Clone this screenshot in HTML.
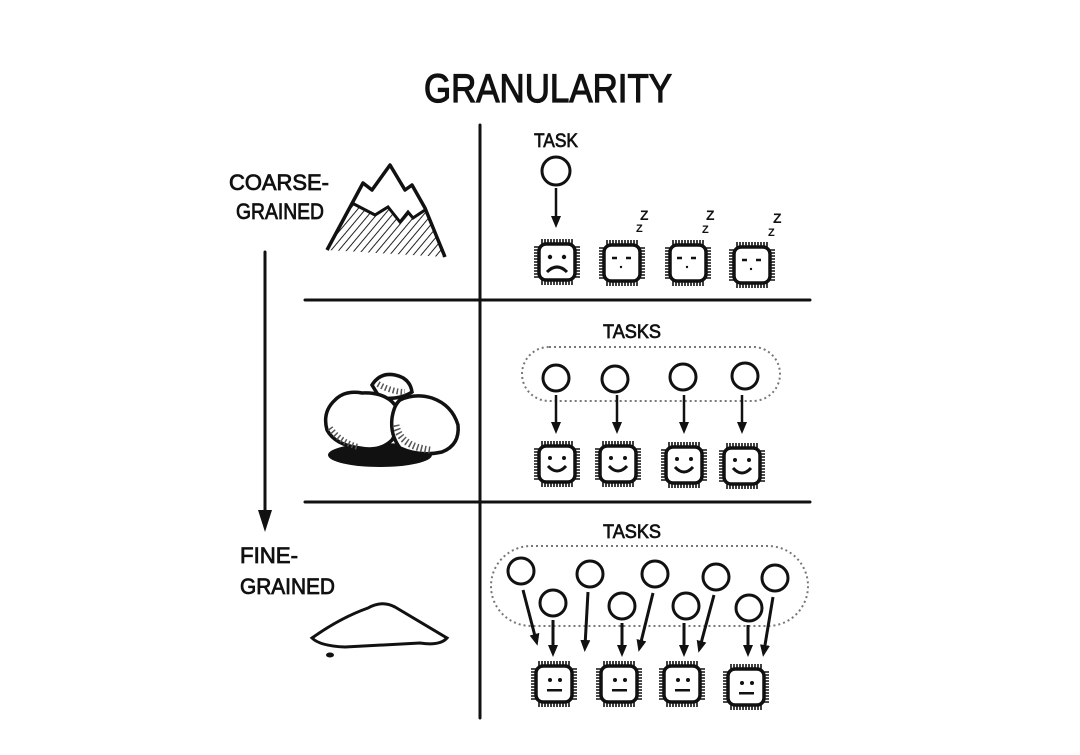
<!DOCTYPE html>
<html><head><meta charset="utf-8"><style>
html,body{margin:0;padding:0;background:#fff;}
svg{display:block;}
text{font-family:"Liberation Sans",sans-serif;fill:#111;}
</style></head><body>
<svg width="1080" height="755" viewBox="0 0 1080 755" xmlns="http://www.w3.org/2000/svg">
<defs>
<pattern id="hatch" width="6" height="6" patternUnits="userSpaceOnUse" patternTransform="rotate(40)">
<line x1="0" y1="0" x2="0" y2="6" stroke="#222" stroke-width="2"/>
</pattern>
<marker id="ah" markerWidth="12" markerHeight="12" refX="6" refY="5" orient="auto" markerUnits="userSpaceOnUse" viewBox="0 0 12 10">
<path d="M0,0 L12,5 L0,10 Z" fill="#111"/>
</marker>
<g id="chip">
<rect x="-18" y="-18" width="36" height="36" rx="7" fill="#fff" stroke="#111" stroke-width="3.5"/>
<path d="M-15,-18v-5M-12,-18v-5M-9,-18v-5M-6,-18v-5M-3,-18v-5M0,-18v-5M3,-18v-5M6,-18v-5M9,-18v-5M12,-18v-5M15,-18v-5
M-15,18v5M-12,18v5M-9,18v5M-6,18v5M-3,18v5M0,18v5M3,18v5M6,18v5M9,18v5M12,18v5M15,18v5
M-18,-15h-5M-18,-12h-5M-18,-9h-5M-18,-6h-5M-18,-3h-5M-18,0h-5M-18,3h-5M-18,6h-5M-18,9h-5M-18,12h-5M-18,15h-5
M18,-15h5M18,-12h5M18,-9h5M18,-6h5M18,-3h5M18,0h5M18,3h5M18,6h5M18,9h5M18,12h5M18,15h5" stroke="#111" stroke-width="1.6"/>
</g>
</defs>

<text x="548" y="102" font-size="40" text-anchor="middle" textLength="248" lengthAdjust="spacingAndGlyphs" stroke="#111" stroke-width="1.2">GRANULARITY</text>

<g stroke="#111" stroke-width="3" fill="none" stroke-linecap="round">
<line x1="480" y1="125" x2="480" y2="718"/>
<line x1="305" y1="300" x2="810" y2="300"/>
<line x1="305" y1="502" x2="810" y2="502"/>
<line x1="265" y1="252" x2="265" y2="515"/>
</g>
<path d="M258,510 L272,510 L265,532 Z" fill="#111"/>

<g font-size="22" stroke="#111" stroke-width="0.8">
<text x="229" y="190" textLength="100" lengthAdjust="spacingAndGlyphs">COARSE-</text>
<text x="236" y="219" textLength="88" lengthAdjust="spacingAndGlyphs">GRAINED</text>
<text x="240" y="563" textLength="58" lengthAdjust="spacingAndGlyphs">FINE-</text>
<text x="240" y="594" textLength="95" lengthAdjust="spacingAndGlyphs">GRAINED</text>
</g>

<!-- mountain -->
<path d="M352,203 L375,215 L388,207 L400,222 L408,212 L413,218 L425,210 L445,257 L327,250 Z" fill="url(#hatch)"/>
<path d="M327,250 L363,183 L372,190 L390,165 L405,190 L412,185 L425,208 L445,257" fill="none" stroke="#111" stroke-width="3.5" stroke-linejoin="round"/>
<path d="M352,203 L375,215 L388,207 L400,222 L408,212 L413,218 L425,210" fill="none" stroke="#111" stroke-width="3"/>

<!-- rocks -->
<ellipse cx="380" cy="455" rx="52" ry="12" fill="#111"/>
<path d="M372,385 Q380,372 395,375 Q410,378 412,392 Q400,400 380,398 Z" fill="#fff" stroke="#111" stroke-width="3.5"/>
<path d="M335,400 Q345,390 362,393 Q385,392 395,405 Q402,425 392,440 Q380,452 360,448 Q335,445 327,430 Q322,412 335,400 Z" fill="#fff" stroke="#111" stroke-width="3.5"/>
<path d="M330,428 Q340,442 358,447" fill="none" stroke="#555" stroke-width="6" stroke-dasharray="1.5 2.5"/>
<path d="M400,400 Q415,393 432,398 Q452,405 458,425 Q460,445 442,452 Q420,457 400,448 Q390,435 392,418 Q394,405 400,400 Z" fill="#fff" stroke="#111" stroke-width="3.5"/>
<path d="M396,425 Q400,446 430,450" fill="none" stroke="#555" stroke-width="7" stroke-dasharray="1.5 2.5"/>
<path d="M378,384 Q392,392 405,392" fill="none" stroke="#555" stroke-width="6" stroke-dasharray="1.5 2.5"/>

<!-- sand -->
<path d="M312,638 Q340,618 368,608 Q382,600 395,607 Q420,622 447,638 Q440,646 420,643 Q380,645 345,647 Q320,646 312,638 Z" fill="#fff" stroke="#111" stroke-width="3"/>
<ellipse cx="330" cy="655" rx="4" ry="2.5" fill="#111"/>

<!-- row 1 -->
<text x="556" y="147" font-size="19" text-anchor="middle" textLength="44" lengthAdjust="spacingAndGlyphs" stroke="#111" stroke-width="0.7">TASK</text>
<circle cx="556" cy="171" r="14" fill="none" stroke="#111" stroke-width="3"/>
<line x1="556" y1="188" x2="556" y2="222" stroke="#111" stroke-width="2.5" marker-end="url(#ah)"/>
<use href="#chip" x="557" y="262"/>
<use href="#chip" x="622" y="263"/>
<use href="#chip" x="688" y="263"/>
<use href="#chip" x="752" y="265"/>
<g fill="#111">
<circle cx="550" cy="257" r="2.2"/><circle cx="564" cy="257" r="2.2"/>
</g>
<path d="M547,272 Q557,262 567,272" fill="none" stroke="#111" stroke-width="3"/>
<g stroke="#111" stroke-width="2.5">
<path d="M612,258h5M626,258h5M677,258h5M691,258h5M742,260h5M756,260h5"/>
</g>
<g fill="#111"><circle cx="621" cy="267" r="1.2"/><circle cx="687" cy="267" r="1.2"/><circle cx="751" cy="269" r="1.2"/></g>
<g font-size="14" font-weight="bold">
<text x="640" y="220">Z</text><text x="636" y="232" font-size="11">Z</text>
<text x="706" y="220">Z</text><text x="702" y="233" font-size="11">Z</text>
<text x="773" y="223">Z</text><text x="768" y="236" font-size="11">Z</text>
</g>

<!-- row 2 -->
<text x="632" y="338" font-size="19" text-anchor="middle" textLength="58" lengthAdjust="spacingAndGlyphs" stroke="#111" stroke-width="0.7">TASKS</text>
<rect x="522" y="347" width="258" height="54" rx="27" fill="none" stroke="#777" stroke-width="2" stroke-dasharray="2 3"/>
<g fill="none" stroke="#111" stroke-width="3">
<circle cx="556" cy="378" r="13"/><circle cx="615" cy="379" r="13"/><circle cx="683" cy="377" r="13"/><circle cx="745" cy="376" r="13"/>
</g>
<g stroke="#111" stroke-width="2.5">
<line x1="556" y1="395" x2="556" y2="428" marker-end="url(#ah)"/>
<line x1="617" y1="395" x2="617" y2="428" marker-end="url(#ah)"/>
<line x1="684" y1="395" x2="684" y2="428" marker-end="url(#ah)"/>
<line x1="742" y1="395" x2="742" y2="428" marker-end="url(#ah)"/>
</g>
<use href="#chip" x="557" y="464"/><use href="#chip" x="618" y="464"/><use href="#chip" x="684" y="465"/><use href="#chip" x="742" y="466"/>
<g fill="#111">
<circle cx="550" cy="458" r="2"/><circle cx="564" cy="458" r="2"/>
<circle cx="611" cy="458" r="2"/><circle cx="625" cy="458" r="2"/>
<circle cx="677" cy="459" r="2"/><circle cx="691" cy="459" r="2"/>
<circle cx="735" cy="460" r="2"/><circle cx="749" cy="460" r="2"/>
</g>
<g fill="none" stroke="#111" stroke-width="3">
<path d="M548,466 Q557,476 566,466"/><path d="M609,466 Q618,476 627,466"/><path d="M675,467 Q684,477 693,467"/><path d="M733,468 Q742,478 751,468"/>
</g>

<!-- row 3 -->
<text x="632" y="538" font-size="19" text-anchor="middle" textLength="58" lengthAdjust="spacingAndGlyphs" stroke="#111" stroke-width="0.7">TASKS</text>
<rect x="491" y="546" width="317" height="80" rx="40" fill="none" stroke="#777" stroke-width="2" stroke-dasharray="2 3"/>
<g fill="none" stroke="#111" stroke-width="3">
<circle cx="521" cy="571" r="13"/><circle cx="590" cy="574" r="13"/><circle cx="655" cy="574" r="13"/><circle cx="716" cy="577" r="13"/><circle cx="775" cy="578" r="13"/>
<circle cx="553" cy="603" r="13"/><circle cx="622" cy="606" r="13"/><circle cx="686" cy="606" r="13"/><circle cx="749" cy="608" r="13"/>
</g>
<g stroke="#111" stroke-width="3">
<line x1="523" y1="590" x2="536" y2="640" marker-end="url(#ah)"/>
<line x1="553" y1="620" x2="553" y2="651" marker-end="url(#ah)"/>
<line x1="588" y1="592" x2="585" y2="646" marker-end="url(#ah)"/>
<line x1="622" y1="623" x2="622" y2="651" marker-end="url(#ah)"/>
<line x1="653" y1="593" x2="640" y2="646" marker-end="url(#ah)"/>
<line x1="684" y1="623" x2="684" y2="651" marker-end="url(#ah)"/>
<line x1="714" y1="595" x2="700" y2="647" marker-end="url(#ah)"/>
<line x1="748" y1="625" x2="748" y2="651" marker-end="url(#ah)"/>
<line x1="773" y1="597" x2="764" y2="651" marker-end="url(#ah)"/>
</g>
<use href="#chip" x="554" y="684"/><use href="#chip" x="619" y="684"/><use href="#chip" x="682" y="684"/><use href="#chip" x="746" y="687"/>
<g fill="#111">
<circle cx="550" cy="680" r="2"/><circle cx="560" cy="680" r="2"/><rect x="547" y="689" width="15" height="2.5"/>
<circle cx="615" cy="680" r="2"/><circle cx="625" cy="680" r="2"/><rect x="612" y="689" width="15" height="2.5"/>
<circle cx="678" cy="680" r="2"/><circle cx="688" cy="680" r="2"/><rect x="675" y="689" width="15" height="2.5"/>
<circle cx="742" cy="683" r="2"/><circle cx="752" cy="683" r="2"/><rect x="739" y="692" width="15" height="2.5"/>
</g>
</svg>
</body></html>
